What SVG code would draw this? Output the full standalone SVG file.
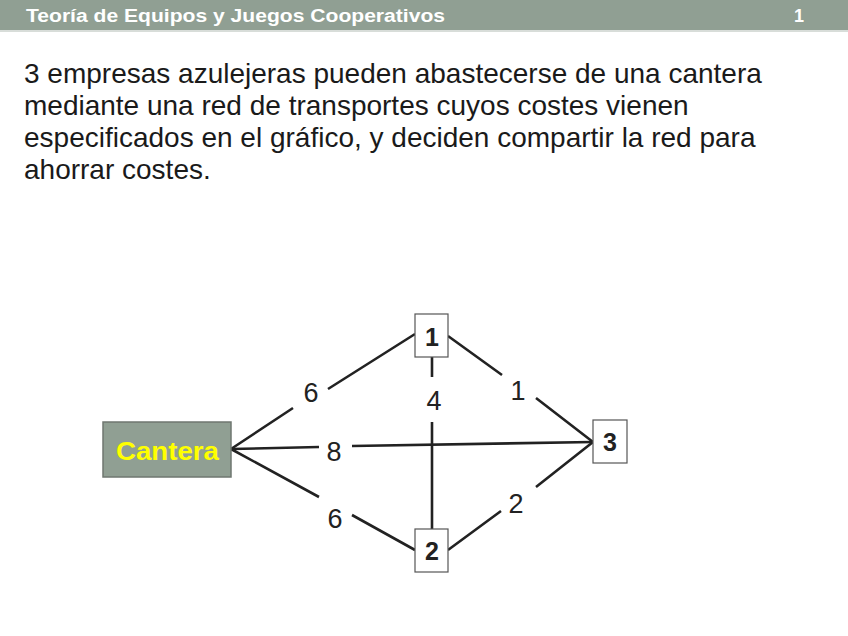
<svg xmlns="http://www.w3.org/2000/svg" width="848" height="636" viewBox="0 0 848 636">
<style>
.hdr{font-family:"Liberation Sans",Arial,sans-serif;font-weight:bold;font-size:18px;fill:#fff}
.body{font-family:"Liberation Sans",Arial,sans-serif;font-size:28px;fill:#1a1a1a}
.lbl{font-family:"Liberation Sans",Arial,sans-serif;font-size:27px;fill:#222;text-anchor:middle}
.nt{font-family:"Liberation Sans",Arial,sans-serif;font-weight:bold;font-size:25px;fill:#222;text-anchor:middle}
.node{fill:#fff;stroke:#555;stroke-width:1.2}
.edge{stroke:#222;stroke-width:2.6;fill:none;stroke-linecap:butt}
</style>
<rect width="848" height="636" fill="#fff"/>
<rect x="0" y="0" width="848" height="30" fill="#909f93"/>
<rect x="0" y="30" width="848" height="2" fill="#d8ddd9"/>
<text class="hdr" x="26" y="22" textLength="419" lengthAdjust="spacingAndGlyphs">Teoría de Equipos y Juegos Cooperativos</text>
<text class="hdr" x="794" y="22">1</text>
<g id="intro">
<text class="body" x="24" y="83">3 empresas azulejeras pueden abastecerse de una cantera</text>
<text class="body" x="24" y="115">mediante una red de transportes cuyos costes vienen</text>
<text class="body" x="24" y="147">especificados en el gráfico, y deciden compartir la red para</text>
<text class="body" x="24" y="179">ahorrar costes.</text>
</g>
<g id="connectors">
<path class="edge" d="M231,449 L293,408 M328,389 L415,334"/>
<path class="edge" d="M231,449 L319,447 M352,446 L593,442"/>
<path class="edge" d="M231,449 L319,497 M352,515 L415,550"/>
<path class="edge" d="M432,357 L432,377 M432,422 L432,529"/>
<path class="edge" d="M448,336 L502,375 M536,398 L593,442"/>
<path class="edge" d="M448,550 L501,511 M536,487 L593,442"/>
<text class="lbl" x="311" y="402">6</text>
<text class="lbl" x="334" y="461">8</text>
<text class="lbl" x="335" y="528">6</text>
<text class="lbl" x="434" y="410">4</text>
<text class="lbl" x="518" y="400">1</text>
<text class="lbl" x="516" y="513">2</text>
</g>
<g id="cantera">
<rect x="103" y="422" width="128" height="55" fill="#909f93" stroke="#6f7770" stroke-width="1.5"/>
<text x="116" y="460" font-family="Liberation Sans,Arial,sans-serif" font-weight="bold" font-size="26" fill="#ffff00" textLength="103" lengthAdjust="spacingAndGlyphs">Cantera</text>
</g>
<g id="n1"><rect class="node" x="415" y="314" width="33" height="43"/><text class="nt" x="432" y="346">1</text></g>
<g id="n2"><rect class="node" x="415" y="529" width="33" height="43"/><text class="nt" x="432" y="560">2</text></g>
<g id="n3"><rect class="node" x="593" y="420" width="34" height="43"/><text class="nt" x="610" y="451">3</text></g>
</svg>
